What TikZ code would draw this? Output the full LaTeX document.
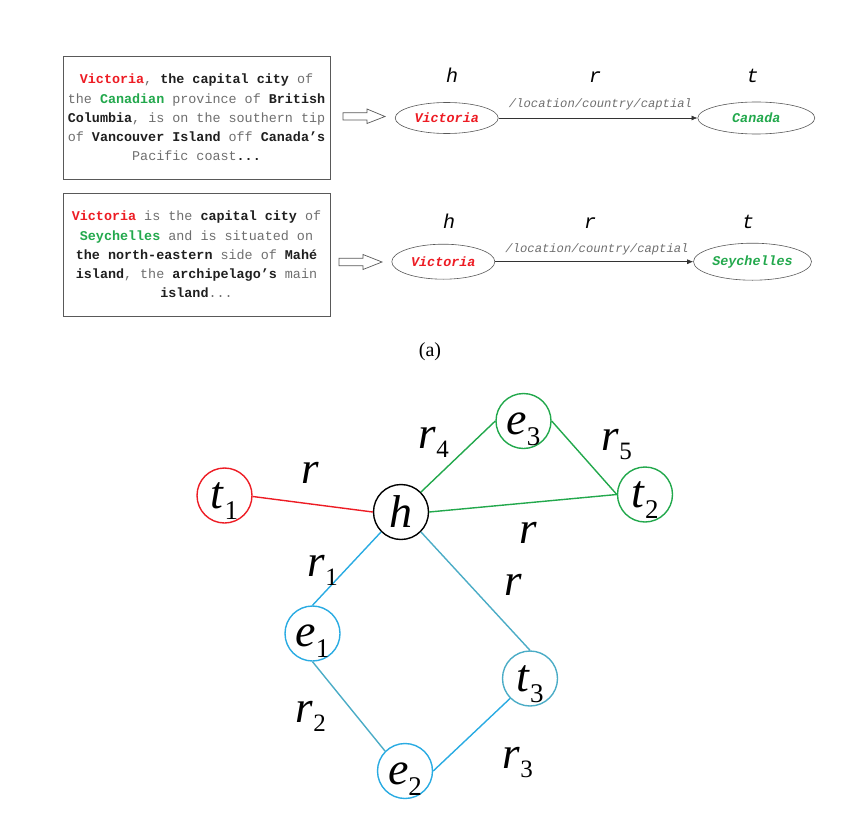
\documentclass[tikz,border=0pt]{standalone}
\usepackage{fontspec}
\setmainfont{Liberation Serif}
\newfontfamily\mono{Liberation Mono}
\usetikzlibrary{shapes.geometric,arrows.meta}
\definecolor{kred}{RGB}{237,28,36}
\definecolor{kgreen}{RGB}{34,168,76}
\definecolor{kblue}{RGB}{41,171,226}
\definecolor{kteal}{RGB}{75,172,198}
\definecolor{ktext}{RGB}{110,110,110}
\newcommand\bk[1]{{\bfseries\color{black!88}#1}}
\newcommand\rd[1]{{\bfseries\color{kred}#1}}
\newcommand\gn[1]{{\bfseries\color{kgreen}#1}}
\newcommand\lbl[2]{\textit{#1}\raisebox{-11pt}{\fontsize{27}{27}\selectfont #2}}
\newcommand\elbl[2]{\textit{#1}\kern0.5pt\raisebox{-9pt}{\fontsize{25}{25}\selectfont #2}}
\tikzset{
  txtbox/.style={draw=black!65, line width=0.8pt, minimum width=267pt, minimum height=123pt,
    inner sep=0pt, align=center, text=ktext, font=\mono\fontsize{13.4}{19.2}\selectfont},
  ent/.style={ellipse, draw=black!65, line width=0.6pt, inner sep=0pt,
    font=\mono\itshape\bfseries\fontsize{13.4}{15}\selectfont},
  rel/.style={font=\mono\itshape\fontsize{12.2}{14}\selectfont, text=ktext, inner sep=0pt},
  hrt/.style={font=\mono\itshape\fontsize{20}{22}\selectfont, inner sep=0pt, anchor=base},
  hollow/.style={draw=black!65, line width=0.7pt, fill=white},
  relarrow/.style={draw=black!80, line width=0.6pt, -{Latex[length=6pt,width=5pt]}},
  gnode/.style={circle, line width=1.4pt, minimum size=55pt, inner sep=0pt,
    text height=30pt, text depth=4pt, font=\fontsize{46}{46}\selectfont},
  elab/.style={font=\fontsize{45}{45}\selectfont, inner sep=0pt, anchor=base west},
  gedge/.style={line width=1.4pt}
}
\begin{document}
\begin{tikzpicture}[x=1pt,y=-1pt]
\useasboundingbox (0,0) rectangle (856,824);

% ---- text boxes ----
\node[txtbox] (box1) at (196.5,117.5) {%
\rd{Victoria}, \bk{the capital city} of\\
the \gn{Canadian} province of \bk{British}\\
\bk{Columbia}, is on the southern tip\\
of \bk{Vancouver Island} off \bk{Canada’s}\\
Pacific coast\bk{...}};
\node[txtbox] (box2) at (196.5,254.5) {%
\rd{Victoria} is the \bk{capital city} of\\
\gn{Seychelles} and is situated on\\
\bk{the north-eastern} side of \bk{Mahé}\\
\bk{island}, the \bk{archipelago’s} main\\
\bk{island}...};

% ---- hollow arrows ----
\draw[hollow] (343,112.7) -- (367,112.7) -- (367,109) -- (385,116.5) -- (367,123.5)
  -- (367,120) -- (343,120) -- cycle;
\draw[hollow] (339,258.3) -- (363,258.3) -- (363,254.5) -- (382,262) -- (363,269.5)
  -- (363,265.7) -- (339,265.7) -- cycle;

% ---- triples ----
\node[hrt] (h1) at (452,83) {h};
\node[hrt] (r1t) at (595,83) {r};
\node[hrt] (t1t) at (752.5,83) {t};
\node[ent, minimum width=103pt, minimum height=31pt, text=kred] (v1) at (446.7,118) {Victoria};
\node[ent, minimum width=117pt, minimum height=32pt, text=kgreen] (c1) at (756.3,118) {Canada};
\draw[relarrow] (v1.east) -- (c1.west);
\node[rel] (l1) at (600.5,104) {/location/country/captial};

\node[hrt] (h2) at (449,228.3) {h};
\node[hrt] (r2t) at (590,228.3) {r};
\node[hrt] (t2t) at (748,228.3) {t};
\node[ent, minimum width=103pt, minimum height=35pt, text=kred] (v2) at (443.3,261.7) {Victoria};
\node[ent, minimum width=118pt, minimum height=37pt, text=kgreen] (c2) at (752.5,261.7) {Seychelles};
\draw[relarrow] (v2.east) -- (c2.west);
\node[rel] (l2) at (597,249) {/location/country/captial};

\node[font=\fontsize{20}{22}\selectfont, inner sep=0pt] (cap) at (430,352) {(a)};

% ---- graph ----
\node[gnode, draw=kred] (t1) at (224.5,495.5) {\lbl{t}{1}};
\node[gnode, draw=black, text depth=-6pt] (h) at (401,512) {\textit{h}};
\node[gnode, draw=kgreen] (e3) at (523.5,421) {\lbl{e}{3}};
\node[gnode, draw=kgreen] (t2) at (645,494.5) {\lbl{t}{2}};
\node[gnode, draw=kblue] (e1) at (312.5,633.5) {\lbl{e}{1}};
\node[gnode, draw=kblue] (e2) at (405,771) {\lbl{e}{2}};
\node[gnode, draw=kteal] (t3) at (530,678.5) {\lbl{t}{3}};

\draw[gedge, kred] (t1.-2) -- (h.180);
\draw[gedge, kgreen] (h.45) -- (e3.180);
\draw[gedge, kgreen] (e3.0) -- (t2.180);
\draw[gedge, kgreen] (h.0) -- (t2.180);
\draw[gedge, kblue] (h.225) -- (e1.90);
\draw[gedge, kteal] (h.-45) -- (t3.90);
\draw[gedge, kteal] (e1.270) -- (e2.135);
\draw[gedge, kblue] (e2.0) -- (t3.225);

\node[elab] (lr) at (301,483) {\textit{r}};
\node[elab] (lr4) at (418,448) {\elbl{r}{4}};
\node[elab] (lr5) at (601,450) {\elbl{r}{5}};
\node[elab] (lrb) at (519,543) {\textit{r}};
\node[elab] (lr1) at (307,576) {\elbl{r}{1}};
\node[elab] (lrc) at (504,595) {\textit{r}};
\node[elab] (lr2) at (295,722) {\elbl{r}{2}};
\node[elab] (lr3) at (502,768) {\elbl{r}{3}};
\end{tikzpicture}
\end{document}
